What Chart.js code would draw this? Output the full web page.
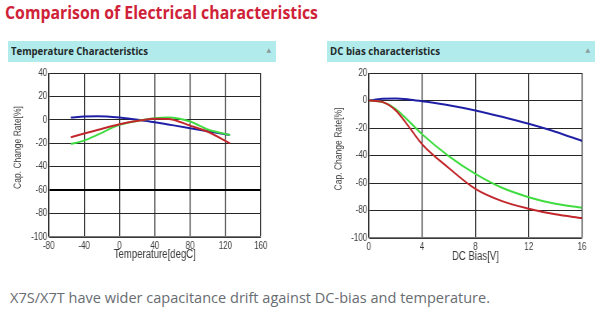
<!DOCTYPE html>
<html>
<head>
<meta charset="utf-8">
<script src="https://cdn.jsdelivr.net/npm/chart.js@4.4.1/dist/chart.umd.min.js"></script>
<style>
  html, body { margin: 0; padding: 0; background: #fff; }
  body { position: relative; width: 600px; height: 327px; overflow: hidden;
         font-family: "Open Sans", "Noto Sans", sans-serif; }
  .txt { position: absolute; white-space: nowrap; line-height: 1; transform-origin: 0 50%; }
  .title { left: 5px; top: 4px; font-size: 17px; font-weight: 700; color: #cf2239; }
  .note { left: 10px; top: 290px; font-size: 15px; color: #686c71; }
  .bar { position: absolute; top: 41px; height: 21px; width: 268px; background: #b2ebeb; }
  .bar .head { position: absolute; left: 3px; top: 5px; font-size: 10.5px; font-weight: 700; color: #1f2a2a; }
  .bar .arrow { position: absolute; right: 5px; top: 6px; font-size: 6px; color: #8a9c9c;
                font-family: "DejaVu Sans", sans-serif; line-height: 1; }
  /* plots are drawn wide, then condensed horizontally */
  .plot { position: absolute; top: 65px; transform-origin: 0 0; transform: scaleX(0.8); }
</style>
</head>
<body>
<span class="txt title" data-w="313">Comparison of Electrical characteristics</span>

<div class="bar" style="left:8px"><span class="txt head" data-w="137">Temperature Characteristics</span><span class="arrow">▲</span></div>
<div class="bar" style="left:327px"><span class="txt head" data-w="110">DC bias characteristics</span><span class="arrow">▲</span></div>

<canvas id="tempChart" class="plot" width="350" height="200" style="left:0px;width:350px;height:200px"></canvas>
<canvas id="biasChart" class="plot" width="375" height="200" style="left:300px;width:375px;height:200px"></canvas>

<span class="txt note" data-w="480">X7S/X7T have wider capacitance drift against DC-bias and temperature.</span>

<script>
// Temperature characteristics (capacitance change vs temperature)
const temperature = [-55, -40, -25, 0, 25, 40, 55, 80, 100, 125];
const tempBlue    = [2.0, 2.8, 3.1, 2.0, -0.3, -2.0, -3.9, -7.1, -9.8, -13.0];
const tempGreen   = [-20.6, -17.7, -12.8, -4.3, -0.3, 1.4, 2.0, -1.4, -8.2, -13.0];
const tempRed     = [-14.9, -11.7, -8.7, -3.7, -0.3, 0.9, 0.8, -4.9, -10.2, -20.0];
const tempXTicks  = [-80, -40, 0, 40, 80, 120, 160];
const tempYTicks  = [-100, -80, -60, -40, -20, 0, 20, 40];
const tempLimit   = -60;

// DC bias characteristics (capacitance change vs applied voltage)
const dcBias     = [0, 1, 2, 3, 4, 6, 8, 10, 12, 14, 16];
const biasBlue   = [0, 1.2, 1.5, 0.8, -0.5, -3.4, -7.2, -11.8, -16.9, -22.7, -29.4];
const biasGreen  = [0, -1.0, -6.0, -15.0, -24.5, -40.4, -53.4, -63.5, -70.3, -75.1, -78.0];
const biasRed    = [0, -1.0, -7.0, -19.0, -31.8, -49.1, -64.3, -73.2, -78.7, -82.8, -85.5];
const biasXTicks = [0, 4, 8, 12, 16];
const biasYTicks = [-100, -80, -60, -40, -20, 0, 20];

const Y_TITLE = 'Cap. Change Rate[%]';
const BLUE = '#1f1fa6', GREEN = '#3fdc3f', RED = '#c1262a';
const FONT = '"Liberation Sans", Arial, sans-serif';
const TEXT = '#3a3a3a';
const SQUEEZE = 0.8;   // matches the .plot scaleX

const pts = (xs, ys) => xs.map((x, i) => ({ x, y: ys[i] }));
const line = (data, color) => ({
  data, borderColor: color, borderWidth: 2, pointRadius: 0,
  fill: false, cubicInterpolationMode: 'monotone'
});
const fixedTicks = list => scale => { scale.ticks = list.map(v => ({ value: v })); };

// Vertical axis title in a condensed face: shortened along its run,
// full height across it (undoing the canvas squeeze).
const sideTitle = {
  id: 'sideTitle',
  afterDraw(chart, args, o) {
    const ctx = chart.ctx;
    ctx.save();
    ctx.translate(o.x, o.y);
    ctx.rotate(-Math.PI / 2);
    ctx.scale(o.run, 1 / SQUEEZE);
    ctx.font = o.size + 'px ' + FONT;
    ctx.fillStyle = TEXT;
    ctx.textAlign = 'center';
    ctx.textBaseline = 'middle';
    ctx.fillText(o.text, 0, 0);
    ctx.restore();
  }
};

function makeChart(id, cfg) {
  return new Chart(document.getElementById(id), {
    type: 'line',
    data: { datasets: [
      line(pts(cfg.x, cfg.red), RED),
      line(pts(cfg.x, cfg.green), GREEN),
      line(pts(cfg.x, cfg.blue), BLUE)
    ] },
    plugins: [sideTitle],
    options: {
      responsive: false, animation: false, devicePixelRatio: 1,
      layout: { padding: { left: 0, right: cfg.padRight, top: cfg.padTop, bottom: 0 } },
      plugins: {
        legend: { display: false }, tooltip: { enabled: false },
        sideTitle: { text: Y_TITLE, x: cfg.titleX, y: cfg.titleY, size: 10.4, run: 0.82 }
      },
      scales: {
        x: {
          type: 'linear', min: cfg.xTicks[0], max: cfg.xTicks[cfg.xTicks.length - 1],
          afterBuildTicks: fixedTicks(cfg.xTicks),
          afterFit: s => { s.height = cfg.xHeight; },
          grid: { color: '#262626', lineWidth: 1.25, drawTicks: false },
          border: { color: '#777', width: 1.25 },
          ticks: { padding: 3, color: TEXT, font: { family: FONT, size: 10 }, maxRotation: 0, autoSkip: false },
          title: { display: true, text: cfg.xTitle, color: TEXT,
                   font: { family: FONT, size: 12 }, padding: { top: 0, bottom: cfg.xTitlePad } }
        },
        y: {
          type: 'linear', min: cfg.yTicks[0], max: cfg.yTicks[cfg.yTicks.length - 1],
          afterBuildTicks: fixedTicks(cfg.yTicks),
          afterFit: s => { s.width = cfg.yWidth; },
          grid: {
            drawTicks: false,
            color: c => (c.tick && c.tick.value === cfg.limit) ? '#000' : '#262626',
            lineWidth: c => (c.tick && c.tick.value === cfg.limit) ? 2 : 1
          },
          border: { color: '#777' },
          ticks: { padding: 2, color: TEXT, font: { family: FONT, size: 10 }, autoSkip: false },
          title: { display: false }
        }
      }
    }
  });
}

makeChart('tempChart', {
  x: temperature, blue: tempBlue, green: tempGreen, red: tempRed,
  xTicks: tempXTicks, yTicks: tempYTicks, limit: tempLimit,
  xTitle: 'Temperature[degC]',
  padRight: 24, padTop: 8, xHeight: 28, yWidth: 61, xTitlePad: 2.8,
  titleX: 22.3, titleY: 82.5
});

makeChart('biasChart', {
  x: dcBias, blue: biasBlue, green: biasGreen, red: biasRed,
  xTicks: biasXTicks, yTicks: biasYTicks, limit: null,
  xTitle: 'DC Bias[V]',
  padRight: 22.5, padTop: 7, xHeight: 27, yWidth: 86, xTitlePad: 1,
  titleX: 48.5, titleY: 84
});

// Squeeze each text line to its column width
document.querySelectorAll('[data-w]').forEach(el => {
  const w = el.getBoundingClientRect().width;
  el.style.transform = 'scaleX(' + (parseFloat(el.dataset.w) / w) + ')';
});
</script>
</body>
</html>
